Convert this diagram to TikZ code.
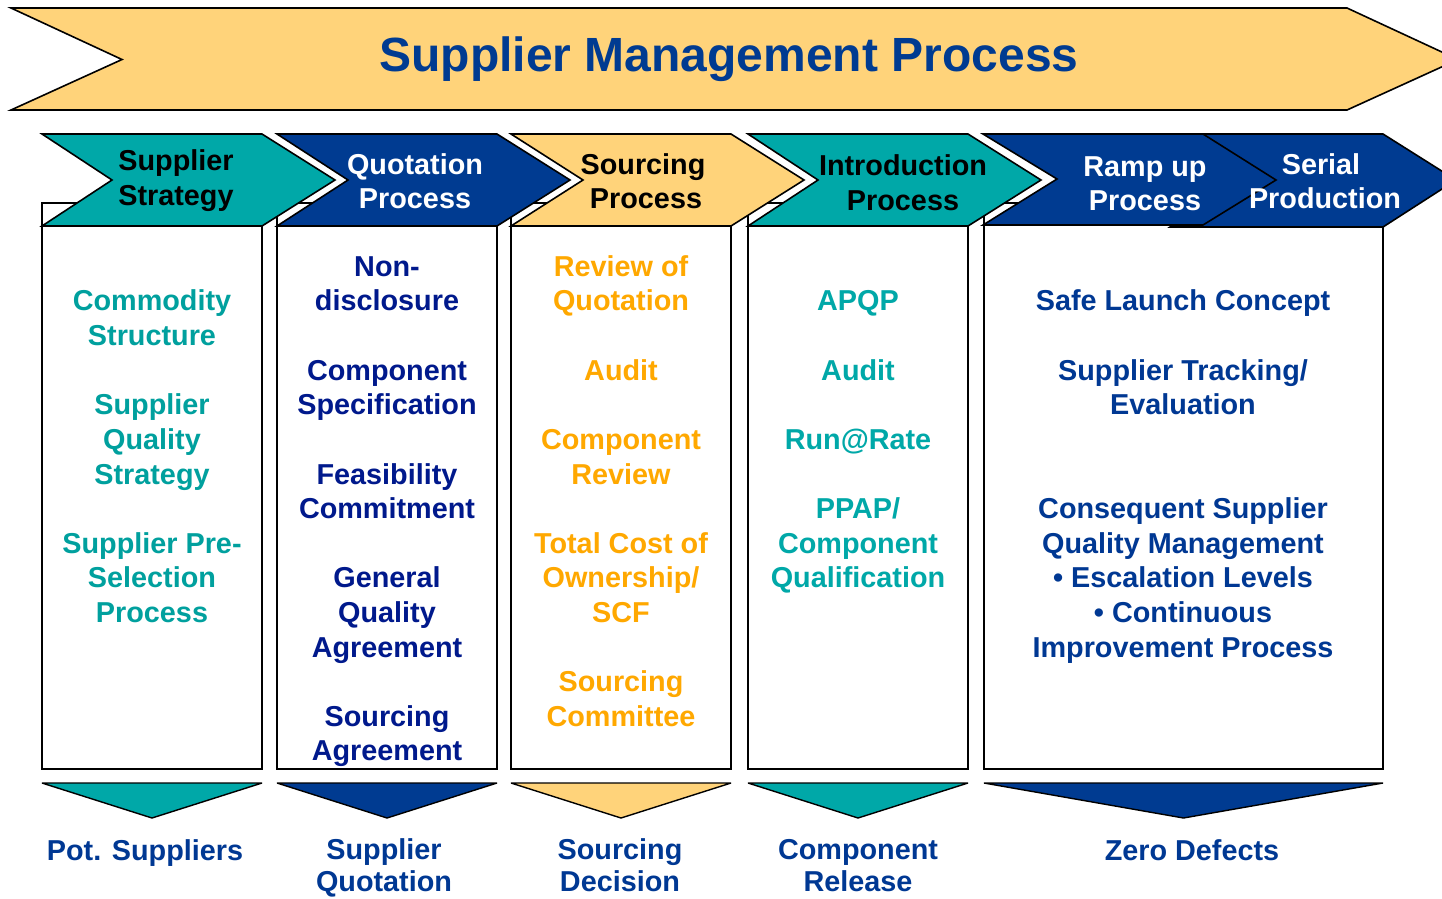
\documentclass[tikz,border=0pt]{standalone}
\usepackage{fontspec}
\setmainfont{Liberation Sans}
\definecolor{cTeal}{RGB}{0,168,168}
\definecolor{cBlue}{RGB}{0,59,145}
\definecolor{cYellow}{RGB}{255,211,122}
\definecolor{cOrange}{RGB}{255,168,0}
\definecolor{cNavy}{RGB}{0,25,140}
\definecolor{cTxtBlue}{RGB}{0,56,147}
\definecolor{cTxtTeal}{RGB}{0,160,158}
\tikzset{
  banner/.style={draw=black, line width=1.6pt, fill=cYellow, line join=miter},
  boxstyle/.style={draw=black, line width=1.4pt, fill=white},
  chevline/.style={draw=black, line width=1.6pt, line join=miter},
  tri/.style={draw=black, line width=1.4pt, line join=bevel},
  item/.style={anchor=base, inner sep=0pt, font=\bfseries\fontsize{28.8}{34.6}\selectfont},
  titlestyle/.style={anchor=base, inner sep=0pt, text=cBlue, font=\bfseries\fontsize{48}{56}\selectfont}
}
\newcommand\mychev[5]{% fill, left, right, notch depth, bottom
  \filldraw[chevline, fill=#1] (#2,134) -- (#3,134) -- ++(73,46) -- (#3,#5) -- (#2,#5) -- ++(#4,-46) -- cycle;}
\newcommand\mycol[4]{% prefix, x, colour, list
  \foreach \yy/\txt [count=\k] in {#4} \node[item, text=#3] (#1-\k) at (#2,\yy-1) {\txt};}
\begin{document}
\begin{tikzpicture}[x=1pt,y=-1pt]
\useasboundingbox (0,0) rectangle (1442,898);
\clip (0,0) rectangle (1442,898);
% banner
\filldraw[banner] (11,8) -- (1347,8) -- (1458,59.5) -- (1347,110) -- (11,110) -- (122,59.5) -- cycle;
\node[titlestyle] (title) at (729,71) {Supplier Management Process};
% boxes
\foreach \l/\r in {42/262, 277/497, 511/731, 748/968, 984/1383}
  \filldraw[boxstyle] (\l,203) rectangle (\r,769);
% chevrons
\mychev{cTeal}{42}{262}{70}{226}
\mychev{cBlue}{277}{497}{71}{226}
\mychev{cYellow}{511}{731}{72}{226}
\mychev{cTeal}{748}{968}{70}{226}
\mychev{cBlue}{1170}{1383}{72}{227}
\mychev{cBlue}{983}{1203}{74}{225}
% header texts
\node[item] (h1a) at (176,170) {Supplier};
\node[item] (h1b) at (176,205) {Strategy};
\node[item, text=white] (h2a) at (415,174) {Quotation};
\node[item, text=white] (h2b) at (415,208) {Process};
\node[item] (h3a) at (643,174) {Sourcing};
\node[item] (h3b) at (646,208) {Process};
\node[item] (h4a) at (903,175) {Introduction};
\node[item] (h4b) at (903,210) {Process};
\node[item, text=white] (h5a) at (1145,176) {Ramp up};
\node[item, text=white] (h5b) at (1145,210) {Process};
\node[item, text=white] (h6a) at (1321,174) {Serial};
\node[item, text=white] (h6b) at (1325,208) {Production};
% column texts
\mycol{a}{152}{cTxtTeal}{311/Commodity, 346/Structure, 415/Supplier, 450/Quality, 485/Strategy, 554/Supplier Pre-, 588/Selection, 623/Process}
\mycol{b}{387}{cNavy}{277/Non-, 311/disclosure, 381/Component, 415/Specification, 485/Feasibility, 519/Commitment, 588/General, 623/Quality, 658/Agreement, 727/Sourcing, 761/Agreement}
\mycol{c}{621}{cOrange}{277/Review of, 311/Quotation, 381/Audit, 450/Component, 485/Review, 554/Total Cost of, 588/{Ownership/}, 623/SCF, 692/Sourcing, 727/Committee}
\mycol{d}{858}{cTeal}{311/APQP, 381/Audit, 450/Run@Rate, 519/{PPAP/}, 554/Component, 588/Qualification}
\mycol{e}{1183}{cTxtBlue}{311/Safe Launch Concept, 381/{Supplier Tracking/}, 415/Evaluation, 519/Consequent Supplier, 554/Quality Management, 588/• Escalation Levels, 623/• Continuous, 658/Improvement Process}
% output triangles
\foreach \l/\r/\c in {42/262/cTeal, 277/497/cBlue, 511/731/cYellow, 748/968/cTeal, 984/1383/cBlue}
  \filldraw[tri, fill=\c] (\l,783) -- (\r,783) -- ({(\l+\r)/2},818) -- cycle;
% output labels
\node[item, text=cTxtBlue] (o1) at (145,860) {Pot. Suppliers};
\node[item, text=cTxtBlue] (o2a) at (384,859) {Supplier};
\node[item, text=cTxtBlue] (o2b) at (384,891) {Quotation};
\node[item, text=cTxtBlue] (o3a) at (620,859) {Sourcing};
\node[item, text=cTxtBlue] (o3b) at (620,891) {Decision};
\node[item, text=cTxtBlue] (o4a) at (858,859) {Component};
\node[item, text=cTxtBlue] (o4b) at (858,891) {Release};
\node[item, text=cTxtBlue] (o5) at (1192,860) {Zero Defects};
\end{tikzpicture}
\end{document}
